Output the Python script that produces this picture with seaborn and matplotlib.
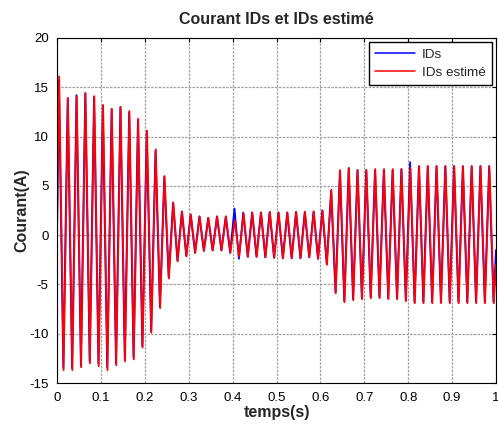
import matplotlib
matplotlib.use("Agg")
import matplotlib.pyplot as plt
import seaborn as sns
import pandas as pd
from matplotlib.lines import Line2D

# ---- data (extrema of each half-cycle) ----
t_est = [0.0, 0.005, 0.015, 0.025, 0.035, 0.045, 0.055, 0.065, 0.075, 0.085, 0.095,
         0.105, 0.115, 0.125, 0.135, 0.145, 0.155, 0.165, 0.175, 0.185, 0.195,
         0.205, 0.215, 0.225, 0.235, 0.245, 0.255, 0.265, 0.275, 0.285, 0.295,
         0.305, 0.315, 0.325, 0.335, 0.345, 0.355, 0.365, 0.375, 0.385, 0.395,
         0.405, 0.415, 0.425, 0.435, 0.445, 0.455, 0.465, 0.475, 0.485, 0.495,
         0.505, 0.515, 0.525, 0.535, 0.545, 0.555, 0.565, 0.575, 0.585, 0.595,
         0.605, 0.615, 0.625, 0.635, 0.645, 0.655, 0.665, 0.675, 0.685, 0.695,
         0.705, 0.715, 0.725, 0.735, 0.745, 0.755, 0.765, 0.775, 0.785, 0.795,
         0.805, 0.815, 0.825, 0.835, 0.845, 0.855, 0.865, 0.875, 0.885, 0.895,
         0.905, 0.915, 0.925, 0.935, 0.945, 0.955, 0.965, 0.975, 0.985, 0.995, 1.0]

ids_est = [0.4, 16.1, -13.7, 13.9, -13.7, 14.1, -13.4, 14.4, -13.0, 14.1, -13.3,
           13.2, -13.7, 12.8, -13.2, 13.0, -12.8, 12.6, -12.6, 11.8, -11.4,
           10.6, -9.9, 8.7, -7.4, 6.0, -4.4, 3.3, -2.65, 2.4, -2.15,
           2.1, -1.8, 1.9, -1.6, 1.75, -1.55, 1.9, -1.55, 1.9, -1.8,
           1.5, -2.15, 2.2, -2.2, 2.3, -2.2, 2.3, -2.25, 2.35, -2.3,
           2.3, -2.35, 2.3, -2.35, 2.35, -2.35, 2.35, -2.25, 2.4, -2.4,
           2.5, -3.0, 4.6, -5.9, 6.6, -6.8, 6.8, -6.6, 6.6, -6.5,
           6.6, -6.4, 6.7, -6.4, 6.7, -6.5, 6.7, -6.5, 6.7, -6.7,
           6.8, -6.9, 7.0, -6.9, 7.0, -6.9, 7.0, -6.9, 7.0, -6.9,
           7.0, -6.9, 7.0, -6.9, 7.0, -6.9, 7.0, -6.9, 7.0, -6.9, -3.0]

t_ids = [0.0, 0.0043, 0.0143, 0.0243, 0.0343, 0.0443, 0.0543, 0.0643, 0.0743, 0.0843, 0.0943,
         0.1043, 0.1143, 0.1243, 0.1343, 0.1443, 0.1543, 0.1643, 0.1743, 0.1843, 0.1943,
         0.2043, 0.2143, 0.2243, 0.2343, 0.2443, 0.2543, 0.2643, 0.2743, 0.2843, 0.2943,
         0.3043, 0.3143, 0.3243, 0.3343, 0.3443, 0.3543, 0.3643, 0.3743, 0.3843, 0.3943,
         0.4043, 0.4143, 0.4243, 0.4343, 0.4443, 0.4543, 0.4643, 0.4743, 0.4843, 0.4943,
         0.5043, 0.5143, 0.5243, 0.5343, 0.5443, 0.5543, 0.5643, 0.5743, 0.5843, 0.5943,
         0.6043, 0.6143, 0.6243, 0.6343, 0.6443, 0.6543, 0.6643, 0.6743, 0.6843, 0.6943,
         0.7043, 0.7143, 0.7243, 0.7343, 0.7443, 0.7543, 0.7643, 0.7743, 0.7843, 0.7943,
         0.8043, 0.8143, 0.8243, 0.8343, 0.8443, 0.8543, 0.8643, 0.8743, 0.8843, 0.8943,
         0.9043, 0.9143, 0.9243, 0.9343, 0.9443, 0.9543, 0.9643, 0.9743, 0.9843, 0.9943, 1.0]

ids = [0.0, 15.7, -13.4, 13.9, -13.5, 14.2, -13.2, 14.4, -12.8, 14.0, -13.0,
       13.1, -13.4, 12.8, -13.0, 13.0, -12.6, 12.5, -12.4, 11.7, -11.3,
       10.5, -9.8, 8.6, -7.3, 5.9, -4.3, 3.3, -2.6, 2.4, -2.1,
       2.1, -1.8, 1.9, -1.6, 1.75, -1.55, 1.9, -1.55, 1.9, -1.8,
       2.7, -2.4, 2.3, -2.2, 2.3, -2.2, 2.3, -2.25, 2.35, -2.3,
       2.3, -2.35, 2.3, -2.35, 2.35, -2.35, 2.35, -2.25, 2.4, -2.4,
       2.5, -2.9, 4.5, -5.8, 6.5, -6.7, 6.8, -6.5, 6.6, -6.4,
       6.6, -6.3, 6.6, -6.3, 6.6, -6.4, 6.6, -6.4, 6.7, -6.6,
       7.4, -6.8, 7.0, -6.8, 7.0, -6.8, 7.0, -6.8, 7.0, -6.8,
       7.0, -6.8, 7.0, -6.8, 7.0, -6.8, 7.0, -6.8, 7.0, -6.8, -1.5]

series_names = ["IDs", "IDs estimé"]
colors = ["#0000ff", "#ff0000"]
xticks = [0, 0.1, 0.2, 0.3, 0.4, 0.5, 0.6, 0.7, 0.8, 0.9, 1]
xticklabels = ["0", "0.1", "0.2", "0.3", "0.4", "0.5", "0.6", "0.7", "0.8", "0.9", "1"]
yticks = [-15, -10, -5, 0, 5, 10, 15, 20]

df = pd.concat([
    pd.DataFrame({"t": t_ids, "v": ids, "s": series_names[0]}),
    pd.DataFrame({"t": t_est, "v": ids_est, "s": series_names[1]}),
], ignore_index=True)

sns.set_style("white")
plt.rcParams["font.family"] = ["Liberation Sans", "DejaVu Sans"]
plt.rcParams["axes.unicode_minus"] = False

fig = plt.figure(figsize=(4.98, 4.26), dpi=100)
ax = fig.add_axes([57 / 498, 1 - 383 / 426, (496 - 57) / 498, (383 - 38) / 426])

sns.lineplot(data=df, x="t", y="v", hue="s", hue_order=series_names,
             palette=colors, estimator=None, sort=False, linewidth=1.3,
             ax=ax, legend=False)

ax.set_xlim(0, 1)
ax.set_ylim(-15, 20)
ax.set_xticks(xticks)
ax.set_xticklabels(xticklabels)
ax.set_yticks(yticks)
ax.grid(True, color="#a0a0a0", linestyle=(0, (2, 1)), linewidth=0.9)
ax.set_axisbelow(True)
ax.tick_params(direction="in", length=3, width=0.8, labelsize=9.5, colors="black",
               top=True, right=True)
ax.tick_params(axis="x", pad=6.5)
ax.tick_params(axis="y", pad=6)
for sp in ax.spines.values():
    sp.set_color("black")
    sp.set_linewidth(0.8)

ax.set_title("Courant IDs et IDs estimé", fontsize=11.5, fontweight="bold", pad=10)
ax.set_xlabel("temps(s)", fontsize=11.5, fontweight="bold", labelpad=1)
ax.set_ylabel("Courant(A)", fontsize=11.5, fontweight="bold", labelpad=0)

handles = [Line2D([0], [0], color=c, lw=1.1) for c in colors]
leg = ax.legend(handles, series_names, loc="upper right", fontsize=9.7,
                frameon=True, fancybox=False, framealpha=1, edgecolor="black",
                handlelength=3.0, handletextpad=0.5, borderpad=0.45,
                labelspacing=0.45, borderaxespad=0.3)
leg.get_frame().set_linewidth(1.0)

fig.savefig("out.png", dpi=100)
